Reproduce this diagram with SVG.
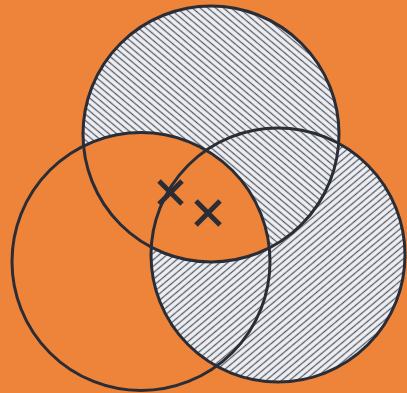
<svg xmlns="http://www.w3.org/2000/svg" width="407" height="393" viewBox="0 0 407 393">
  <style>
    .outline { fill: none; stroke: #2a2d36; stroke-width: 3; }
    .mark { stroke: #2a2d36; stroke-width: 5; stroke-linecap: butt; }
  </style>
  <defs>
    <pattern id="hatchTop" width="6" height="5" patternUnits="userSpaceOnUse" patternTransform="rotate(40)">
      <rect width="6" height="5" fill="#eef0f4"/>
      <line x1="0" y1="2.5" x2="6" y2="2.5" stroke="#5b5e67" stroke-width="1.3"/>
    </pattern>
    <pattern id="hatchRight" width="6" height="5" patternUnits="userSpaceOnUse" patternTransform="rotate(-40)">
      <rect width="6" height="5" fill="#eef0f4"/>
      <line x1="0" y1="2.5" x2="6" y2="2.5" stroke="#5b5e67" stroke-width="1.3"/>
    </pattern>
    <clipPath id="clipTop">
      <circle cx="211" cy="134" r="128"/>
    </clipPath>
  </defs>
  <rect width="407" height="393" fill="#ee833a"/>
  <g id="fills">
    <circle cx="278" cy="255" r="127" fill="url(#hatchRight)"/>
    <circle cx="211" cy="134" r="128" fill="url(#hatchTop)"/>
    <circle cx="141" cy="261.5" r="129" fill="#ee833a" clip-path="url(#clipTop)"/>
  </g>
  <g id="circle-top">
    <circle class="outline" cx="211" cy="134" r="128"/>
  </g>
  <g id="circle-left">
    <circle class="outline" cx="141" cy="261.5" r="129"/>
  </g>
  <g id="circle-right">
    <circle class="outline" cx="278" cy="255" r="127"/>
  </g>
  <g id="mark-1">
    <line class="mark" x1="159" y1="181" x2="182" y2="204"/>
    <line class="mark" x1="182" y1="181" x2="159" y2="204"/>
  </g>
  <g id="mark-2">
    <line class="mark" x1="196" y1="201" x2="220" y2="225"/>
    <line class="mark" x1="220" y1="201" x2="196" y2="225"/>
  </g>
  <g id="connectors"/>
</svg>
